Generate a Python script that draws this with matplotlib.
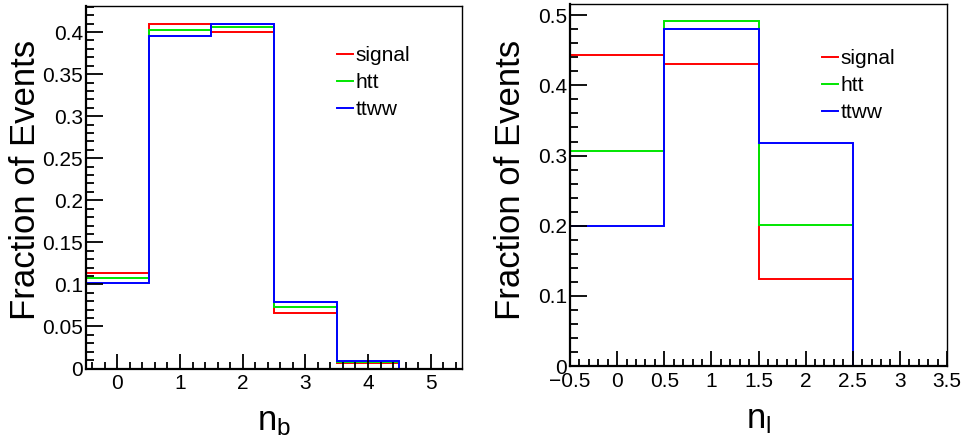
import matplotlib
matplotlib.use("Agg")
import matplotlib.pyplot as plt
import numpy as np
from matplotlib.ticker import MultipleLocator, FuncFormatter
from matplotlib.lines import Line2D

plt.rcParams['font.family'] = ['Liberation Sans', 'DejaVu Sans']
plt.rcParams['mathtext.default'] = 'regular'

series = ["signal", "htt", "ttww"]
colors = ["#ff0000", "#00e600", "#0000ff"]

# n_b distribution (bins centred on 0..5)
nb_edges = [-0.5, 0.5, 1.5, 2.5, 3.5, 4.5, 5.5]
nb_signal = [0.113, 0.410, 0.400, 0.066, 0.007, 0.0]
nb_htt = [0.108, 0.402, 0.406, 0.073, 0.0075, 0.0]
nb_ttww = [0.102, 0.395, 0.410, 0.079, 0.009, 0.0]

# n_l distribution (bins centred on 0..3)
nl_edges = [-0.5, 0.5, 1.5, 2.5, 3.5]
nl_signal = [0.444, 0.431, 0.124, 0.0]
nl_htt = [0.306, 0.492, 0.201, 0.0]
nl_ttww = [0.199, 0.480, 0.318, 0.0]

W, H = 966, 446
fig = plt.figure(figsize=(W / 100, H / 100), dpi=100)

def frac_ax(x0, y0, x1, y1):
    return fig.add_axes([x0 / W, 1 - y1 / H, (x1 - x0) / W, (y1 - y0) / H])

ax1 = frac_ax(86, 6, 462, 368.5)
ax2 = frac_ax(570, 4, 947, 366)

def fmt(v, pos):
    s = ('%.2f' % v).rstrip('0').rstrip('.')
    if s in ('-0', ''):
        s = '0'
    return s.replace('-', '\u2212')

def style(ax, xmin, xmax, ymax, xmaj, xmin_t, ymaj, ymin_t):
    ax.set_xlim(xmin, xmax)
    ax.set_ylim(0, ymax)
    ax.xaxis.set_major_locator(MultipleLocator(xmaj))
    ax.xaxis.set_minor_locator(MultipleLocator(xmin_t))
    ax.yaxis.set_major_locator(MultipleLocator(ymaj))
    ax.yaxis.set_minor_locator(MultipleLocator(ymin_t))
    ax.xaxis.set_major_formatter(FuncFormatter(fmt))
    ax.yaxis.set_major_formatter(FuncFormatter(fmt))
    ax.tick_params(which='both', direction='in', top=False, right=False,
                   labelsize=15, width=1.3, color='black')
    ax.tick_params(axis='x', which='major', length=11, pad=4)
    ax.tick_params(axis='x', which='minor', length=5)
    ax.tick_params(axis='y', which='major', length=12, pad=2)
    ax.tick_params(axis='y', which='minor', length=6)
    for s in ('left', 'bottom'):
        ax.spines[s].set_linewidth(1.6)
    for s in ('top', 'right'):
        ax.spines[s].set_linewidth(1.0)

style(ax1, -0.5, 5.5, 0.431, 1, 0.2, 0.05, 0.01)
style(ax2, -0.5, 3.5, 0.516, 0.5, 0.1, 0.1, 0.02)

for vals, c, lab in zip([nb_signal, nb_htt, nb_ttww], colors, series):
    ax1.stairs(vals, nb_edges, color=c, lw=1.4, label=lab, baseline=0)
for vals, c, lab in zip([nl_signal, nl_htt, nl_ttww], colors, series):
    ax2.stairs(vals, nl_edges, color=c, lw=1.4, label=lab, baseline=0)

handles = [Line2D([], [], color=c, lw=1.4) for c in colors]

for ax, lx, ly in [(ax1, 337, 46), (ax2, 822, 49)]:
    ax.legend(handles, series, loc='upper left',
              bbox_to_anchor=(lx / W, 1 - ly / H), bbox_transform=fig.transFigure,
              frameon=False, fontsize=15, handlelength=0.75, handletextpad=0.15,
              labelspacing=0.38, borderaxespad=0, borderpad=0)

fig.text(26 / W, 1 - 180 / H, 'Fraction of Events', rotation=90, fontsize=25,
         ha='center', va='center')
fig.text(510 / W, 1 - 180 / H, 'Fraction of Events', rotation=90, fontsize=25,
         ha='center', va='center')
fig.text(274 / W, 1 - 422 / H, '$n_b$', fontsize=25, ha='center', va='center')
fig.text(759 / W, 1 - 420 / H, '$n_l$', fontsize=25, ha='center', va='center')

fig.savefig('out.png', dpi=100)
